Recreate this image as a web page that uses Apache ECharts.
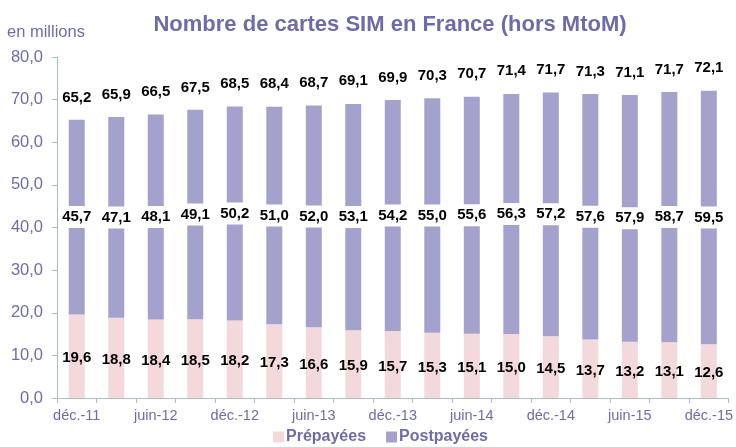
<!DOCTYPE html>
<html>
<head>
<meta charset="utf-8">
<script src="https://cdn.jsdelivr.net/npm/echarts@6/dist/echarts.min.js"></script>
<style>
  html, body { margin: 0; padding: 0; background: #fff; }
  #chart { width: 736px; height: 447px; }
</style>
</head>
<body>
<div id="chart"></div>
<script>
// trimestres de déc. 2011 à déc. 2015
const categories = ['déc.-11', 'mars-12', 'juin-12', 'sept.-12', 'déc.-12', 'mars-13', 'juin-13', 'sept.-13',
  'déc.-13', 'mars-14', 'juin-14', 'sept.-14', 'déc.-14', 'mars-15', 'juin-15', 'sept.-15', 'déc.-15']
const prepayees = [19.6, 18.8, 18.4, 18.5, 18.2, 17.3, 16.6, 15.9, 15.7, 15.3, 15.1, 15.0, 14.5, 13.7, 13.2, 13.1, 12.6]
const postpayees = [45.7, 47.1, 48.1, 49.1, 50.2, 51.0, 52.0, 53.1, 54.2, 55.0, 55.6, 56.3, 57.2, 57.6, 57.9, 58.7, 59.5]
const totals = [65.2, 65.9, 66.5, 67.5, 68.5, 68.4, 68.7, 69.1, 69.9, 70.3, 70.7, 71.4, 71.7, 71.3, 71.1, 71.7, 72.1]

const fmt = v => v.toFixed(1).replace('.', ',')
const txt = '#6e6ca6'
const font = 'Liberation Sans, Arial, sans-serif'

const chart = echarts.init(document.getElementById('chart'))

const labelStyle = {
  show: true,
  color: '#000',
  fontWeight: 'bold',
  fontSize: 15,
  fontFamily: font,
  formatter: p => fmt(p.value)
}

chart.setOption({
  animation: false,
  textStyle: { fontFamily: font },
  title: {
    text: 'Nombre de cartes SIM en France (hors MtoM)',
    left: 385,
    top: 9,
    textAlign: 'center',
    textStyle: { color: txt, fontSize: 22, fontWeight: 'bold' }
  },
  graphic: [{
    type: 'text',
    left: 7,
    top: 24,
    style: { text: 'en millions', fill: txt, fontSize: 16.5, fontFamily: font }
  }],
  legend: {
    data: ['Prépayées', 'Postpayées'],
    bottom: -3,
    left: 268,
    itemWidth: 11,
    itemHeight: 11,
    itemGap: 20,
    icon: 'rect',
    textStyle: { color: txt, fontSize: 16, fontWeight: 'bold', padding: [0, 0, 0, -3] }
  },
  grid: { left: 57, right: 7, top: 57, bottom: 49 },
  xAxis: {
    type: 'category',
    data: categories,
    axisLine: { lineStyle: { color: '#a9bcc2' } },
    axisTick: { show: true, interval: 0, length: 5, lineStyle: { color: '#a9bcc2' } },
    axisLabel: { interval: 1, color: txt, fontSize: 14.5, margin: 10 }
  },
  yAxis: {
    type: 'value',
    min: 0,
    max: 80,
    interval: 10,
    axisLine: { show: true, lineStyle: { color: '#a9bcc2' } },
    axisTick: { show: true, length: 5, lineStyle: { color: '#a9bcc2' } },
    splitLine: { show: false },
    axisLabel: { color: txt, fontSize: 16.5, margin: 14, formatter: v => fmt(v) }
  },
  series: [
    {
      name: 'Prépayées',
      type: 'bar',
      stack: 'sim',
      data: prepayees,
      barWidth: 16,
      itemStyle: { color: '#f4d9dc' },
      label: { ...labelStyle, position: 'inside', offset: [0, 2] }
    },
    {
      name: 'Postpayées',
      type: 'bar',
      stack: 'sim',
      data: postpayees,
      barWidth: 16,
      itemStyle: { color: '#a4a1cc' },
      label: {
        ...labelStyle,
        position: 'inside',
        backgroundColor: '#fff',
        padding: [4, 3, 3, 3]
      },
      z: 3
    },
    {
      name: 'Total',
      type: 'bar',
      data: totals,
      barWidth: 16,
      barGap: '-100%',
      itemStyle: { color: 'transparent' },
      label: { ...labelStyle, position: 'top', distance: 15 },
      z: 1,
      silent: true
    }
  ]
})
</script>
</body>
</html>
